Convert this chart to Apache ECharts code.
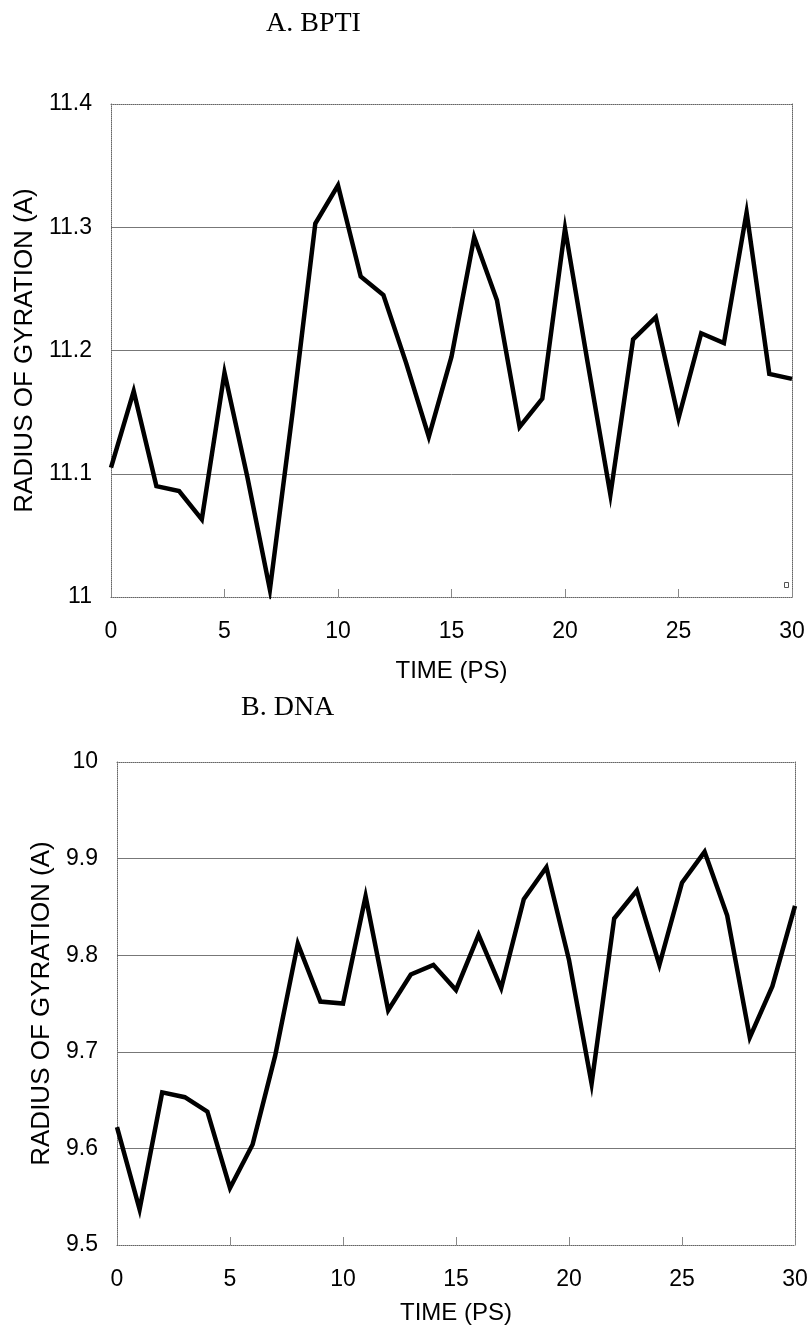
<!DOCTYPE html>
<html>
<head>
<meta charset="utf-8">
<script src="https://cdn.jsdelivr.net/npm/echarts@6/dist/echarts.min.js"></script>
<style>
  html, body { margin: 0; padding: 0; background: #fff; }
  #main { width: 811px; height: 1326px; }
</style>
</head>
<body>
<div id="main"></div>
<script>
// time axis (ps)
const times = [0, 1, 2, 3, 4, 5, 6, 7, 8, 9, 10, 11, 12, 13, 14, 15,
               16, 17, 18, 19, 20, 21, 22, 23, 24, 25, 26, 27, 28, 29, 30];

// A. BPTI radius of gyration
const bptiRg = [11.105, 11.167, 11.090, 11.086, 11.063, 11.182, 11.098, 11.006, 11.150, 11.303,
                11.334, 11.260, 11.245, 11.190, 11.130, 11.195, 11.292, 11.241, 11.138, 11.161,
                11.299, 11.190, 11.083, 11.209, 11.227, 11.145, 11.214, 11.206, 11.312, 11.181,
                11.177];

// B. DNA radius of gyration
const dnaRg = [9.622, 9.537, 9.658, 9.653, 9.638, 9.559, 9.604, 9.696, 9.812, 9.752,
               9.750, 9.861, 9.743, 9.780, 9.790, 9.764, 9.821, 9.766, 9.858, 9.891,
               9.795, 9.667, 9.838, 9.867, 9.790, 9.875, 9.907, 9.841, 9.715, 9.768,
               9.851];

const titles = ['A. BPTI', 'B. DNA'];
const yTitle = 'RADIUS OF GYRATION (A)';
const xTitle = 'TIME (PS)';

const sans = '"Liberation Sans", Arial, sans-serif';
const serif = '"Liberation Serif", "Times New Roman", serif';

const chart = echarts.init(document.getElementById('main'));

function bottomAxis(gridIndex, nameGap) {
    return {
        type: 'value', gridIndex: gridIndex, position: 'bottom',
        min: 0, max: 30, interval: 5,
        name: xTitle, nameLocation: 'middle', nameGap: nameGap,
        nameTextStyle: { fontFamily: sans, fontSize: 24, color: '#000' },
        axisLine: { show: true, onZero: false, lineStyle: { color: '#666', width: 1, type: 'dotted' } },
        axisTick: { show: true, inside: true, length: 8, lineStyle: { color: '#888' } },
        axisLabel: { fontFamily: sans, fontSize: 23, color: '#000', margin: 23 },
        splitLine: { show: false }
    };
}

function topAxis(gridIndex) {
    return {
        type: 'value', gridIndex: gridIndex, position: 'top',
        min: 0, max: 30,
        axisLine: { show: true, onZero: false, lineStyle: { color: '#666', width: 1, type: 'dotted' } },
        axisTick: { show: false }, axisLabel: { show: false }, splitLine: { show: false }
    };
}

function leftAxis(gridIndex, min, max, nameGap) {
    return {
        type: 'value', gridIndex: gridIndex, position: 'left',
        min: min, max: max, interval: 0.1,
        name: yTitle, nameLocation: 'middle', nameGap: nameGap, nameRotate: 90,
        nameTextStyle: { fontFamily: sans, fontSize: 26, color: '#000' },
        axisLine: { show: true, onZero: false, lineStyle: { color: '#666', width: 1, type: 'dotted' } },
        axisTick: { show: false },
        axisLabel: { fontFamily: sans, fontSize: 23, color: '#000', margin: 19 },
        splitLine: { show: true, showMinLine: false, showMaxLine: false, lineStyle: { color: '#777', width: 1 } }
    };
}

function rightAxis(gridIndex, min, max) {
    return {
        type: 'value', gridIndex: gridIndex, position: 'right',
        min: min, max: max,
        axisLine: { show: true, onZero: false, lineStyle: { color: '#666', width: 1, type: 'dotted' } },
        axisTick: { show: false }, axisLabel: { show: false }, splitLine: { show: false }
    };
}

const option = {
    backgroundColor: '#fff',
    animation: false,
    title: [
        { text: titles[0], left: 261, top: 5, textStyle: { fontFamily: serif, fontSize: 28, fontWeight: 'normal', color: '#000' } },
        { text: titles[1], left: 236, top: 689, textStyle: { fontFamily: serif, fontSize: 28, fontWeight: 'normal', color: '#000' } }
    ],
    grid: [
        { left: 111, top: 104, width: 681, height: 493 },
        { left: 117, top: 762, width: 678, height: 483 }
    ],
    xAxis: [bottomAxis(0, 62), topAxis(0), bottomAxis(1, 56), topAxis(1)],
    yAxis: [leftAxis(0, 11, 11.4, 71), rightAxis(0, 11, 11.4), leftAxis(1, 9.5, 10, 49), rightAxis(1, 9.5, 10)],
    graphic: [
        // small square marker left in the lower right corner of panel A
        { type: 'rect', left: 784, top: 582, shape: { width: 4, height: 5 }, style: { fill: '#fff', stroke: '#555', lineWidth: 1 } }
    ],
    series: [
        {
            type: 'line', xAxisIndex: 0, yAxisIndex: 0,
            data: times.map((t, i) => [t, bptiRg[i]]),
            showSymbol: false,
            lineStyle: { color: '#000', width: 4.5, join: 'miter' }
        },
        {
            type: 'line', xAxisIndex: 2, yAxisIndex: 2,
            data: times.map((t, i) => [t, dnaRg[i]]),
            showSymbol: false,
            lineStyle: { color: '#000', width: 4.5, join: 'miter' }
        }
    ]
};

chart.setOption(option);
</script>
</body>
</html>
